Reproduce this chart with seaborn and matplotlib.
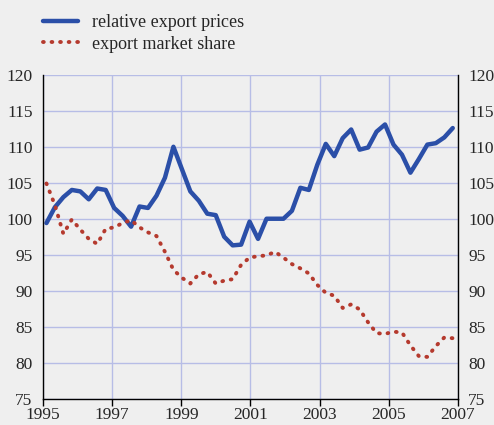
import numpy as np
import pandas as pd
import matplotlib
matplotlib.use('Agg')
import matplotlib.pyplot as plt
import seaborn as sns

# quarterly observations, 1995 Q1 .. 2007 Q1 (49 points)
rel_prices = [99.4, 101.6, 103.0, 104.0, 103.8, 102.7, 104.2, 104.0, 101.5, 100.4,
              98.9, 101.7, 101.5, 103.2, 105.7, 110.0, 106.9, 103.8, 102.5, 100.7,
              100.5, 97.5, 96.3, 96.4, 99.6, 97.2, 100.0, 100.0, 100.0, 101.1,
              104.3, 104.0, 107.5, 110.4, 108.7, 111.2, 112.4, 109.6, 109.9, 112.1,
              113.1, 110.3, 108.9, 106.4, 108.3, 110.3, 110.5, 111.3, 112.6]
mkt_share = [104.9, 101.9, 97.9, 99.9, 98.5, 97.2, 96.5, 98.6, 98.8, 99.4,
             99.8, 98.8, 98.1, 97.6, 95.4, 92.9, 91.8, 91.0, 92.3, 92.6,
             91.0, 91.4, 91.6, 93.6, 94.6, 94.8, 94.9, 95.4, 94.6, 93.7,
             93.1, 92.4, 90.8, 89.7, 89.3, 87.6, 88.1, 87.4, 85.6, 84.1,
             84.0, 84.3, 84.2, 82.4, 80.9, 80.8, 82.3, 83.5, 83.4]
x_start, x_end = 1995.1, 2006.85
years = [1995, 1997, 1999, 2001, 2003, 2005, 2007]
yticks = [75, 80, 85, 90, 95, 100, 105, 110, 115, 120]

df = pd.DataFrame({'t': np.linspace(x_start, x_end, len(rel_prices)),
                   'relative export prices': rel_prices,
                   'export market share': mkt_share})

sns.set_style('white')
plt.rcParams['font.family'] = ['Liberation Serif', 'DejaVu Serif']

bg = '#efefef'
fig = plt.figure(figsize=(4.94, 4.25), dpi=100, facecolor=bg)
ax = fig.add_axes([0.087, 0.062, 0.840, 0.762], facecolor=bg)

sns.lineplot(data=df, x='t', y='relative export prices', ax=ax, color='#2b4fa8',
             lw=3.2, label='relative export prices', legend=False)
sns.lineplot(data=df, x='t', y='export market share', ax=ax, color='#b53a2e',
             lw=2.8, linestyle=(0, (0.2, 2.0)), dash_capstyle='round',
             label='export market share', legend=False)

ax.set_xlim(1995, 2007)
ax.set_ylim(75, 120)
ax.set_xticks(years)
ax.set_yticks(yticks)
ax.set_xlabel('')
ax.set_ylabel('')
ax.grid(True, color='#b7bde6', lw=1.0)
ax.set_axisbelow(True)

for s in ['left', 'right', 'bottom']:
    ax.spines[s].set_color('black')
    ax.spines[s].set_linewidth(1.0)
ax.spines['top'].set_visible(False)

ax.tick_params(axis='y', left=False, right=False, labelleft=True, labelright=True,
               labelsize=12.5, pad=4)
ax.tick_params(axis='x', bottom=True, direction='out', length=5, width=1,
               labelsize=12.5, pad=1, color='black')

handles, labels = ax.get_legend_handles_labels()
fig.legend(handles, labels, loc='upper left', bbox_to_anchor=(0.055, 1.005),
           frameon=False, fontsize=13, handlelength=1.9, handletextpad=0.8,
           labelspacing=0.25)

fig.savefig('out.png', dpi=100, facecolor=bg)
